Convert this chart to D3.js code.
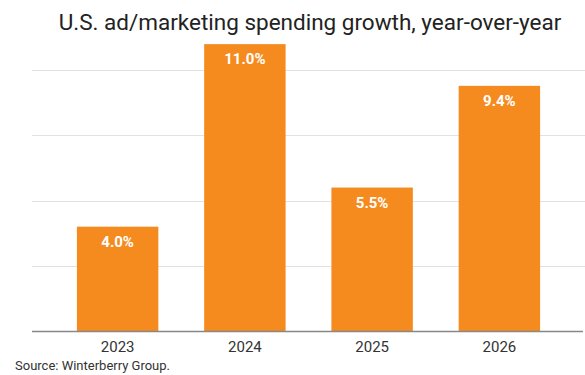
<!DOCTYPE html>
<html>
<head>
<meta charset="utf-8">
<script src="https://cdn.jsdelivr.net/npm/d3@7"></script>
<style>
  body { margin: 0; background: #fff; }
  text { font-family: Roboto, "Noto Sans", sans-serif; }
</style>
</head>
<body>
<div id="chart"></div>
<script>
const years = ['2023', '2024', '2025', '2026'];
const growth = [4.0, 11.0, 5.5, 9.4];
const gridTicks = [2.5, 5, 7.5, 10];

const W = 585, H = 375;
const baseY = 331, topY = 5;

const svg = d3.select('#chart')
    .append('svg')
    .attr('width', W)
    .attr('height', H);

const x = d3.scaleBand()
    .domain(years)
    .range([54, 563])
    .paddingInner(0.36)
    .paddingOuter(0.18);

const y = d3.scaleLinear()
    .domain([0, 12.5])
    .range([baseY, topY]);

// gridlines
svg.append('g')
    .selectAll('line')
    .data(gridTicks)
    .join('line')
    .attr('x1', 32)
    .attr('x2', 585)
    .attr('y1', d => Math.round(y(d)) + 0.5)
    .attr('y2', d => Math.round(y(d)) + 0.5)
    .attr('stroke', '#e2e2e2')
    .attr('stroke-width', 1);

// bars
svg.append('g')
    .selectAll('rect')
    .data(years)
    .join('rect')
    .attr('x', d => x(d))
    .attr('width', x.bandwidth())
    .attr('y', (d, i) => y(growth[i]))
    .attr('height', (d, i) => baseY - y(growth[i]))
    .attr('fill', '#f58b1f');

// value labels
svg.append('g')
    .selectAll('text')
    .data(years)
    .join('text')
    .attr('x', d => x(d) + x.bandwidth() / 2)
    .attr('y', (d, i) => y(growth[i]) + 20)
    .attr('text-anchor', 'middle')
    .attr('fill', '#fff')
    .attr('font-weight', 'bold')
    .attr('font-size', 15)
    .text((d, i) => growth[i].toFixed(1) + '%');

// x axis
const xAxis = d3.axisBottom(x).tickSize(0).tickPadding(10);
const gx = svg.append('g')
    .attr('transform', `translate(0,${baseY})`)
    .call(xAxis);
gx.select('.domain').remove();
gx.selectAll('text')
    .attr('font-size', 15)
    .attr('font-family', 'Roboto, sans-serif')
    .attr('fill', '#333');
svg.append('line')
    .attr('x1', 32).attr('x2', 583)
    .attr('y1', baseY + 0.5).attr('y2', baseY + 0.5)
    .attr('stroke', '#888')
    .attr('stroke-width', 1.5);

// title
svg.append('text')
    .attr('x', 310)
    .attr('y', 30)
    .attr('text-anchor', 'middle')
    .attr('font-size', 22.5)
    .attr('fill', '#222')
    .text('U.S. ad/marketing spending growth, year-over-year');

// source
svg.append('text')
    .attr('x', 15)
    .attr('y', 370)
    .attr('font-size', 13)
    .attr('fill', '#333')
    .text('Source: Winterberry Group.');
</script>
</body>
</html>
